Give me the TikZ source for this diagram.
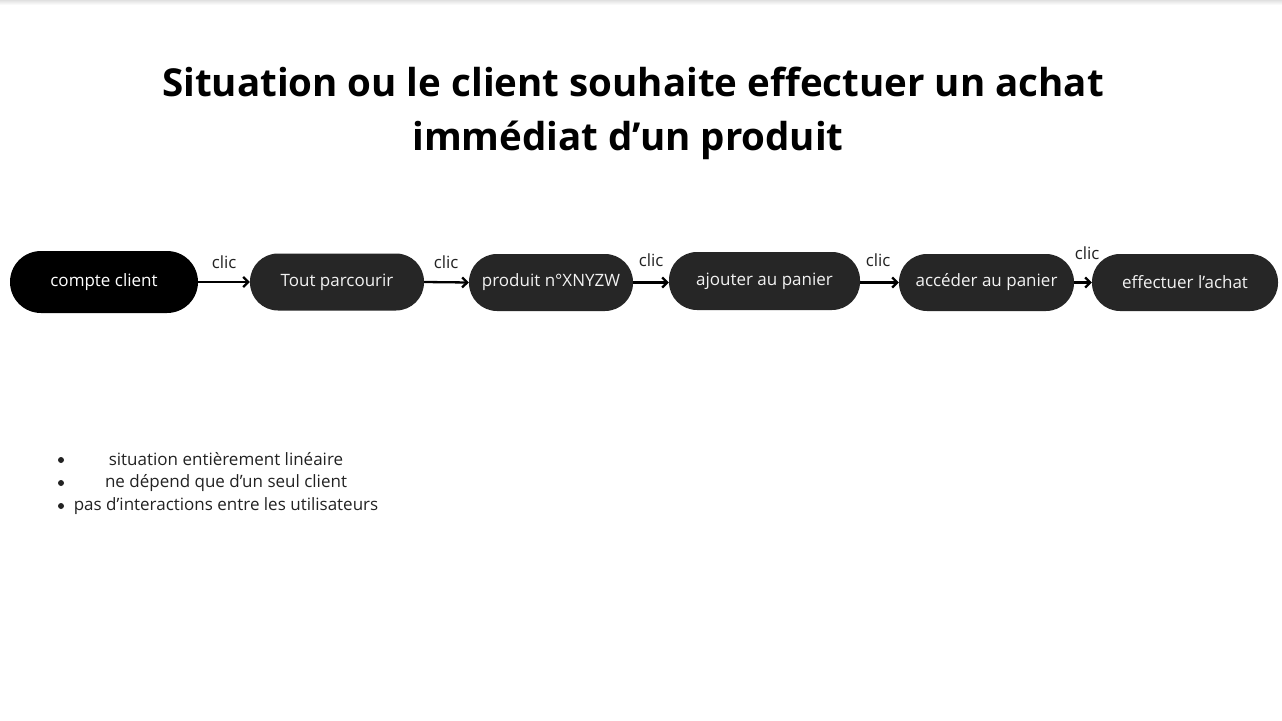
\documentclass[tikz,border=0pt]{standalone}
\usepackage{fontspec}
\setmainfont{Open Sans}
\usetikzlibrary{arrows.meta}
\definecolor{pillgray}{HTML}{262626}
\definecolor{txtgray}{HTML}{222222}
\definecolor{pilltext}{HTML}{F2F2F2}
\tikzset{
  pill/.style={draw=none, fill=pillgray, text=pilltext, rounded corners=28pt,
    minimum height=57pt, inner sep=0pt, font=\fontsize{17}{20}\selectfont},
  clic/.style={text=txtgray, font=\fontsize{16.8}{20}\selectfont, inner sep=0pt},
  conn/.style={line width=2.3pt, -{Straight Barb[length=5pt,width=10pt,line width=2.3pt]}},
  bul/.style={text=txtgray, font=\fontsize{17}{20}\selectfont, inner sep=0pt},
  ttl/.style={font=\bfseries\fontsize{38.5}{54}\selectfont, text=black, inner sep=0pt, anchor=base}
}
\begin{document}
\begin{tikzpicture}[x=1pt,y=-1pt]
\useasboundingbox (0,0) rectangle (1282,720);
\fill[white] (0,0) rectangle (1282,720);
\shade[top color=black!12, bottom color=white] (0,0) rectangle (1282,5);
% title
\node[ttl] (title1) at (633,96) {Situation ou le client souhaite effectuer un achat};
\node[ttl] (title2) at (628,150) {immédiat d’un produit};
% nodes
\node[pill, fill=black, text=white, minimum width=188pt, minimum height=62pt, rounded corners=31pt] (n1) at (104,282) {compte client};
\node[pill, minimum width=174pt] (n2) at (337,282) {Tout parcourir};
\node[pill, minimum width=164pt] (n3) at (551,282.5) {produit n°XNYZW};
\node[pill, minimum width=191pt, minimum height=58pt] (n4) at (764.5,281) {ajouter au panier};
\node[pill, minimum width=175pt] (n5) at (986.5,282.5) {accéder au panier};
\node[pill, minimum width=186pt] (n6) at (1185,282.5) {effectuer l’achat};
% connectors
\draw[conn] (n1.east) -- (n2.west);
\draw[conn] (n2.east) -- (n3.west);
\draw[conn] (n3.east) -- (n4.west |- n3.east);
\draw[conn] (n4.east |- n5.west) -- (n5.west);
\draw[conn] (n5.east) -- (n6.west);
% labels
\node[clic] (c1) at (224,262) {clic};
\node[clic] (c2) at (446,262) {clic};
\node[clic] (c3) at (651,260) {clic};
\node[clic] (c4) at (878,260) {clic};
\node[clic] (c5) at (1087,253) {clic};
% bullets
\node[bul] (b1) at (226,459) {situation entièrement linéaire};
\node[bul] (b2) at (226,483) {ne dépend que d’un seul client};
\node[bul] (b3) at (226,506) {pas d’interactions entre les utilisateurs};
\fill[txtgray] (61,460) circle (3pt);
\fill[txtgray] (61,483) circle (3pt);
\fill[txtgray] (61,506) circle (3pt);
\end{tikzpicture}
\end{document}
